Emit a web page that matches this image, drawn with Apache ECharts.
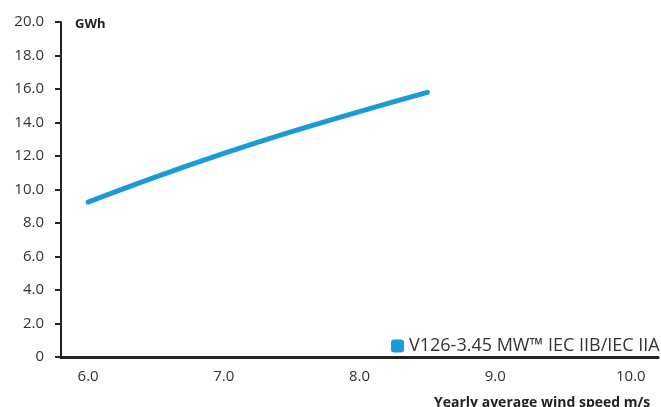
<!DOCTYPE html>
<html>
<head>
<meta charset="utf-8">
<script src="https://cdn.jsdelivr.net/npm/echarts@6/dist/echarts.min.js"></script>
<style>
html,body{margin:0;padding:0;background:#fff;}
#chart{width:661px;height:407px;}
</style>
</head>
<body>
<div id="chart"></div>
<script>
const windSpeeds = [6.0, 6.5, 7.0, 7.5, 8.0, 8.5];
const aepGWh = [9.25, 10.75, 12.15, 13.45, 14.65, 15.8];
const seriesName = 'V126-3.45 MW\u2122 IEC IIB/IEC IIA';
const yUnit = 'GWh';
const xTitle = 'Yearly average wind speed m/s';

const chart = echarts.init(document.getElementById('chart'));
const font = '"Open Sans", "Noto Sans", sans-serif';
chart.setOption({
  animation: false,
  textStyle: {fontFamily: font},
  title: [
    {text: yUnit, left: 70, top: 13, textStyle: {fontSize: 13, fontWeight: 'bold', color: '#222', fontFamily: font}},
    {text: xTitle, left: 429, top: 391, textStyle: {fontSize: 14, fontWeight: 'bold', color: '#222', fontFamily: font}}
  ],
  legend: {
    left: 386, top: 332,
    itemWidth: 13, itemHeight: 13, itemGap: 6,
    icon: 'roundRect',
    textStyle: {fontSize: 18, color: '#333', fontFamily: font},
    data: [{name: seriesName, itemStyle: {color: '#1b9ad7', borderRadius: 2}}]
  },
  grid: {left: 61, right: 2, top: 22, bottom: 50},
  xAxis: {
    type: 'value', min: 5.8, max: 10.2, interval: 0.2,
    axisLine: {lineStyle: {color: '#222', width: 3}},
    axisTick: {show: false},
    splitLine: {show: false},
    axisLabel: {
      fontSize: 15, color: '#333', margin: 12,
      formatter: v => Math.abs(v - Math.round(v)) < 1e-6 ? v.toFixed(1) : ''
    }
  },
  yAxis: {
    type: 'value', min: 0, max: 20, interval: 2,
    axisLine: {show: true, lineStyle: {color: '#222', width: 2}},
    axisTick: {show: true, length: 6, lineStyle: {color: '#222', width: 2}},
    splitLine: {show: false},
    axisLabel: {
      fontSize: 15, color: '#333', margin: 17,
      formatter: v => v === 0 ? '0' : v.toFixed(1)
    }
  },
  series: [{
    name: seriesName,
    type: 'line',
    data: windSpeeds.map((x, i) => [x, aepGWh[i]]),
    smooth: 0.3,
    showSymbol: false,
    lineStyle: {color: '#1b9ad7', width: 5, cap: 'round'},
    itemStyle: {color: '#1b9ad7'}
  }]
});
</script>
</body>
</html>
